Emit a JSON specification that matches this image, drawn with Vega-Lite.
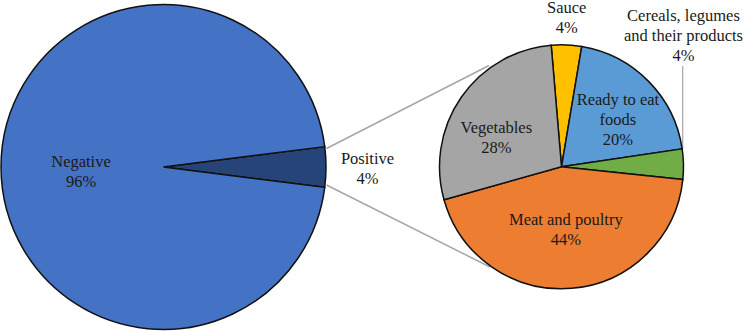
{
  "$schema": "https://vega.github.io/schema/vega-lite/v6.json",
  "width": 745,
  "height": 331,
  "padding": 0,
  "autosize": "none",
  "background": "white",
  "config": {
    "view": {"stroke": null},
    "text": {"font": "Liberation Serif", "fontSize": 16.5, "lineBreak": "\n", "lineHeight": 20, "color": "#1a1a1a"}
  },
  "datasets": {
    "screening": [
      {"result": "Positive", "share": 4, "seq": 1},
      {"result": "Negative", "share": 96, "seq": 2}
    ],
    "positive_by_food": [
      {"food": "Sauce", "share": 4, "seq": 1},
      {"food": "Ready to eat\nfoods", "share": 20, "seq": 2},
      {"food": "Cereals, legumes\nand their products", "share": 4, "seq": 3},
      {"food": "Meat and poultry", "share": 44, "seq": 4},
      {"food": "Vegetables", "share": 28, "seq": 5}
    ]
  },
  "layer": [
    {
      "data": {"name": "screening"},
      "transform": [{"filter": "datum.result === 'Positive'"}],
      "layer": [
        {
          "mark": {"type": "rule", "color": "#a6a6a6", "strokeWidth": 1.5},
          "encoding": {"x": {"value": 326.5}, "y": {"value": 148.5}, "x2": {"value": 489}, "y2": {"value": 65.5}}
        },
        {
          "mark": {"type": "rule", "color": "#a6a6a6", "strokeWidth": 1.5},
          "encoding": {"x": {"value": 326.5}, "y": {"value": 185}, "x2": {"value": 490}, "y2": {"value": 267}}
        }
      ]
    },
    {
      "data": {"name": "positive_by_food"},
      "transform": [{"filter": "datum.seq === 3"}],
      "mark": {"type": "rule", "color": "#a6a6a6", "strokeWidth": 1.2},
      "encoding": {"x": {"value": 682.7}, "y": {"value": 66}, "x2": {"value": 682.7}, "y2": {"value": 149}}
    },
    {
      "data": {"name": "screening"},
      "transform": [{"calculate": "datum.result + '\\n' + datum.share + '%'", "as": "label"}],
      "encoding": {
        "theta": {"field": "share", "type": "quantitative", "stack": true, "scale": {"range": [1.4451, 7.7283]}},
        "order": {"field": "seq", "type": "quantitative"}
      },
      "layer": [
        {
          "mark": {"type": "arc", "x": 163.5, "y": 167, "radius": 162.5, "stroke": "#111111", "strokeWidth": 1.5},
          "encoding": {
            "color": {"field": "result", "type": "nominal", "scale": {"domain": ["Negative", "Positive"], "range": ["#4472c4", "#264478"]}, "legend": null}
          }
        },
        {
          "mark": {"type": "text", "x": 163.5, "y": 167, "radius": 82.5, "dy": -5},
          "encoding": {"text": {"condition": {"test": "datum.result === 'Negative'", "field": "label", "type": "nominal"}, "value": ""}}
        },
        {
          "mark": {"type": "text", "x": 163.5, "y": 167, "radius": 204, "dy": -8},
          "encoding": {"text": {"condition": {"test": "datum.result === 'Positive'", "field": "label", "type": "nominal"}, "value": ""}}
        }
      ]
    },
    {
      "data": {"name": "positive_by_food"},
      "transform": [{"calculate": "datum.food + '\\n' + datum.share + '%'", "as": "label"}],
      "encoding": {
        "theta": {"field": "share", "type": "quantitative", "stack": true, "scale": {"range": [-0.08465, 6.19854]}},
        "order": {"field": "seq", "type": "quantitative"}
      },
      "layer": [
        {
          "mark": {"type": "arc", "x": 561.5, "y": 166.8, "radius": 122, "stroke": "#111111", "strokeWidth": 1.5},
          "encoding": {
            "color": {
              "field": "food", "type": "nominal",
              "scale": {
                "domain": ["Sauce", "Ready to eat\nfoods", "Cereals, legumes\nand their products", "Meat and poultry", "Vegetables"],
                "range": ["#ffc000", "#5b9bd5", "#70ad47", "#ed7d31", "#a5a5a5"]
              },
              "legend": null
            }
          }
        },
        {
          "mark": {"type": "text", "x": 561.5, "y": 166.8, "radius": 151, "dx": -1, "dy": -8},
          "encoding": {"text": {"condition": {"test": "datum.seq === 1", "field": "label", "type": "nominal"}, "value": ""}}
        },
        {
          "mark": {"type": "text", "x": 561.5, "y": 166.8, "radius": 72, "dx": 5, "dy": -16},
          "encoding": {"text": {"condition": {"test": "datum.seq === 2", "field": "label", "type": "nominal"}, "value": ""}}
        },
        {
          "mark": {"type": "text", "x": 561.5, "y": 166.8, "radius": 122, "dy": -148},
          "encoding": {"text": {"condition": {"test": "datum.seq === 3", "field": "label", "type": "nominal"}, "value": ""}}
        },
        {
          "mark": {"type": "text", "x": 561.5, "y": 166.8, "radius": 63, "dx": -1, "dy": -10},
          "encoding": {"text": {"condition": {"test": "datum.seq === 4", "field": "label", "type": "nominal"}, "value": ""}}
        },
        {
          "mark": {"type": "text", "x": 561.5, "y": 166.8, "radius": 72, "dx": -6, "dy": 2},
          "encoding": {"text": {"condition": {"test": "datum.seq === 5", "field": "label", "type": "nominal"}, "value": ""}}
        }
      ]
    }
  ],
  "resolve": {"scale": {"theta": "independent", "color": "independent"}}
}
